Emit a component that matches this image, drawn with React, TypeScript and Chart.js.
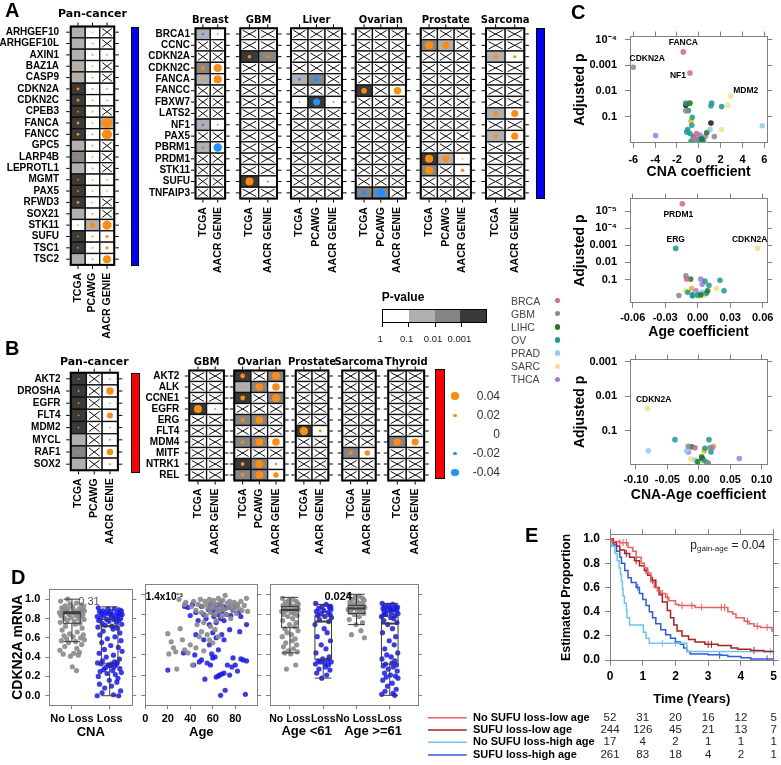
import React, { useEffect, useRef } from 'react';
import { Chart, registerables } from 'chart.js';

Chart.register(...registerables);

const SANS = "'Liberation Sans', Arial, Helvetica, sans-serif";
const WIDE = "'DejaVu Sans', Verdana, sans-serif";
Chart.defaults.font.family = SANS;
Chart.defaults.color = '#000';

const GREY_AX = '#808080';
const ORANGE = '#FF8C0F';
const BLUE_DOT = '#2290FF';
const P_FILL = ['#FFFFFF', '#B0B0B0', '#858585', '#3A3A3A'];

// ---------------- Panel A data ----------------
const SRC3 = ['TCGA', 'PCAWG', 'AACR GENIE'];
const SRC2 = ['TCGA', 'AACR GENIE'];

const panA_genes = ['ARHGEF10', 'ARHGEF10L', 'AXIN1', 'BAZ1A', 'CASP9', 'CDKN2A', 'CDKN2C', 'CPEB3', 'FANCA', 'FANCC', 'GPC5', 'LARP4B', 'LEPROTL1', 'MGMT', 'PAX5', 'RFWD3', 'SOX21', 'STK11', 'SUFU', 'TSC1', 'TSC2'];
const panA_p: Record<string, string> = { ARHGEF10: '10x', ARHGEF10L: '10x', AXIN1: '100', BAZ1A: '10x', CASP9: '10x', CDKN2A: '300', CDKN2C: '300', CPEB3: '30x', FANCA: '301', FANCC: '300', GPC5: '10x', LARP4B: '20x', LEPROTL1: '10x', MGMT: '300', PAX5: '300', RFWD3: '30x', SOX21: '10x', STK11: '010', SUFU: '300', TSC1: '300', TSC2: '100' };
const panA_c: Record<string, number[]> = { ARHGEF10: [0.01, 0.009, 0], ARHGEF10L: [0.01, 0.007, 0], AXIN1: [0.01, 0.01, 0.01], BAZ1A: [0.01, 0.007, 0], CASP9: [0.01, 0.007, 0], CDKN2A: [0.016, 0.01, 0.01], CDKN2C: [0.016, 0.01, 0.01], CPEB3: [0.01, 0.01, 0], FANCA: [0.016, 0.007, 0.058], FANCC: [0.016, 0.01, 0.058], GPC5: [0.008, 0.01, 0], LARP4B: [0.01, 0.008, 0], LEPROTL1: [0.008, 0.01, 0], MGMT: [0.01, 0.008, 0.01], PAX5: [0.01, 0.008, 0.008], RFWD3: [0.016, 0.007, 0], SOX21: [0.008, 0.01, 0], STK11: [0.008, 0.03, 0.052], SUFU: [0.01, 0.01, 0.018], TSC1: [0.01, 0.01, 0.018], TSC2: [0.008, 0.01, 0.045] };

const rA_genes = ['BRCA1', 'CCNC', 'CDKN2A', 'CDKN2C', 'FANCA', 'FANCC', 'FBXW7', 'LATS2', 'NF1', 'PAX5', 'PBRM1', 'PRDM1', 'STK11', 'SUFU', 'TNFAIP3'];
const breast_p: Record<string, string> = { BRCA1: '10', CDKN2C: '20', FANCA: '10', NF1: '10', PBRM1: '10' };
const breast_c: Record<string, number[]> = { BRCA1: [-0.015, -0.008], CDKN2C: [0.022, 0.046], FANCA: [0.012, 0.046], NF1: [-0.015, -0.007], PBRM1: [-0.012, -0.048] };
const gbmA_p: Record<string, string> = { CDKN2A: '32', SUFU: '30' };
const gbmA_c: Record<string, number[]> = { CDKN2A: [0.02, 0.015], SUFU: [0.045, 0.013] };
const liver_p: Record<string, string> = { FANCA: '12x', FBXW7: '030' };
const liver_c: Record<string, number[]> = { FANCA: [-0.016, -0.03, 0], FBXW7: [-0.008, -0.04, -0.008] };
const ovarA_p: Record<string, string> = { FANCC: '3x0', TNFAIP3: '22x' };
const ovarA_c: Record<string, number[]> = { FANCC: [0.032, 0, 0.042], TNFAIP3: [-0.026, -0.052, 0] };
const prostA_p: Record<string, string> = { CCNC: '21x', PRDM1: '310', STK11: '2x0' };
const prostA_c: Record<string, number[]> = { CCNC: [0.046, 0.042, 0], PRDM1: [0.046, 0.038, 0.008], STK11: [0.046, 0, 0.02] };
const sarcA_p: Record<string, string> = { CDKN2A: '10', LATS2: '10', PAX5: '10' };
const sarcA_c: Record<string, number[]> = { CDKN2A: [0.024, 0.017], LATS2: [0.028, 0.04], PAX5: [0.024, 0.04] };

// ---------------- Panel B data ----------------
const panB_genes = ['AKT2', 'DROSHA', 'EGFR', 'FLT4', 'MDM2', 'MYCL', 'RAF1', 'SOX2'];
const panB_p: Record<string, string> = { AKT2: '3x0', DROSHA: '3x0', EGFR: '3x0', FLT4: '3x0', MDM2: '3x0', MYCL: '1x0', RAF1: '2x0', SOX2: '1x0' };
const panB_c: Record<string, number[]> = { AKT2: [0.01, 0, 0.01], DROSHA: [0.01, 0, 0.042], EGFR: [0.01, 0, 0.008], FLT4: [0.01, 0, 0.034], MDM2: [0.01, 0, 0.008], MYCL: [0.008, 0, 0.012], RAF1: [0.008, 0, 0.036], SOX2: [0.008, 0, 0.012] };
const rB_genes = ['AKT2', 'ALK', 'CCNE1', 'EGFR', 'ERG', 'FLT4', 'MDM4', 'MITF', 'NTRK1', 'REL'];
const gbmB_p: Record<string, string> = { EGFR: '30' };
const gbmB_c: Record<string, number[]> = { EGFR: [0.045, 0.01] };
const ovarB_p: Record<string, string> = { AKT2: '3x2', ALK: '120', CCNE1: '3x2', ERG: '22x', MDM4: '220', NTRK1: '320', REL: '220' };
const ovarB_c: Record<string, number[]> = { AKT2: [0.027, 0, 0.045], ALK: [0.01, 0.043, 0.043], CCNE1: [0.027, 0, 0.045], ERG: [0.022, 0.043, 0], MDM4: [0.02, 0.043, 0.043], NTRK1: [0.022, 0.045, 0.014], REL: [0.02, 0.045, 0.03] };
const prostB_p: Record<string, string> = { FLT4: '30' };
const prostB_c: Record<string, number[]> = { FLT4: [0.048, 0.016] };
const sarcB_p: Record<string, string> = { MITF: '20' };
const sarcB_c: Record<string, number[]> = { MITF: [0.022, 0.03] };
const thyB_p: Record<string, string> = { MDM4: '20' };
const thyB_c: Record<string, number[]> = { MDM4: [0.04, 0.04] };

// ---------------- Legends ----------------
const pLegendLabels = ['1', '0.1', '0.01', '0.001'];
const cancerTypes = ['BRCA', 'GBM', 'LIHC', 'OV', 'PRAD', 'SARC', 'THCA'];
const typeColors: Record<string, string> = { BRCA: '#D9619E', GBM: '#8A8A8A', LIHC: '#237A23', OV: '#1E9C94', PRAD: '#8ECFF5', SARC: '#F4E08A', THCA: '#A77BE6', BLK: '#1C1C1C', GLD: '#EDB01A' };
const coefLegend = [0.04, 0.02, 0, -0.02, -0.04];

// ---------------- Panel C data: [coef, adjusted p, type] ----------------
const cnaPoints: [number, number, string][] = [
  [-1.42, 3e-4, 'BRCA'], [-0.81, 2e-3, 'BRCA'], [-0.2, 0.46, 'BRCA'], [-0.4, 0.7, 'BRCA'],
  [-6.0, 1.2e-3, 'GBM'], [-1.2, 0.059, 'GBM'], [1.42, 0.6, 'GBM'], [-0.3, 0.8, 'GBM'],
  [-0.81, 0.03, 'LIHC'], [0.72, 0.43, 'LIHC'], [0.3, 0.75, 'LIHC'],
  [-1.19, 0.03, 'OV'], [-0.96, 0.059, 'OV'], [-0.6, 0.107, 'OV'], [-0.65, 0.22, 'OV'], [-1.02, 0.32, 'OV'], [-0.81, 0.46, 'OV'], [-1.11, 0.4, 'OV'], [1.18, 0.03, 'OV'], [1.11, 0.038, 'OV'], [2.09, 0.041, 'OV'], [-0.5, 0.62, 'OV'], [0.0, 0.8, 'OV'], [0.4, 0.88, 'OV'], [-0.7, 0.9, 'OV'], [0.2, 0.7, 'OV'],
  [1.02, 0.32, 'PRAD'], [5.81, 0.23, 'PRAD'], [-0.1, 0.85, 'PRAD'], [0.25, 0.92, 'PRAD'],
  [2.92, 0.016, 'SARC'], [2.64, 0.036, 'SARC'], [2.09, 0.32, 'SARC'], [-0.55, 0.55, 'SARC'], [-0.7, 0.92, 'SARC'], [0.5, 0.95, 'SARC'],
  [-3.95, 0.55, 'THCA'], [0.11, 0.53, 'THCA'], [0.6, 0.6, 'THCA'], [-0.3, 0.75, 'THCA'],
  [-1.19, 0.036, 'BLK'], [1.11, 0.18, 'BLK'], [-0.72, 0.15, 'GLD'], [0.35, 0.88, 'GLD'],
];
const cnaLabels: [string, number, number, number, number][] = [['FANCA', -1.42, 3e-4, 0, -9], ['CDKN2A', -6.0, 1.2e-3, 14, -9], ['NF1', -0.81, 2e-3, -12, 3], ['MDM2', 2.92, 0.016, 15, -5]];
const agePoints: [number, number, string][] = [
  [-0.0142, 3.6e-6, 'BRCA'], [-0.0102, 0.093, 'BRCA'],
  [-0.0108, 0.06, 'GBM'], [-0.0173, 0.87, 'GBM'],
  [-0.0065, 0.093, 'LIHC'], [0.0092, 0.46, 'LIHC'], [0.003, 0.8, 'LIHC'],
  [-0.0203, 1.5e-3, 'OV'], [0.0067, 0.125, 'OV'], [0.0104, 0.22, 'OV'], [0.0206, 0.11, 'OV'], [0.0243, 0.46, 'OV'], [-0.0092, 0.57, 'OV'], [0.0, 0.8, 'OV'], [-0.005, 0.9, 'OV'], [0.008, 0.65, 'OV'],
  [0.0042, 0.57, 'PRAD'], [-0.002, 0.75, 'PRAD'],
  [0.0554, 1.5e-3, 'SARC'], [0.0175, 0.34, 'SARC'], [0.0006, 0.95, 'SARC'], [0.0067, 0.87, 'SARC'], [-0.0111, 0.46, 'SARC'],
  [0.0028, 0.093, 'THCA'], [0.0042, 0.19, 'THCA'], [-0.0016, 0.46, 'THCA'], [0.0045, 0.6, 'THCA'],
  [-0.0041, 0.8, 'BLK'], [-0.0055, 0.34, 'GLD'],
];
const ageLabels: [string, number, number, number, number][] = [['PRDM1', -0.0142, 3.6e-6, -4, 11], ['ERG', -0.0203, 1.5e-3, 0, -9], ['CDKN2A', 0.0554, 1.5e-3, -8, -9]];
const intPoints: [number, number, string][] = [
  [-0.0061, 0.31, 'BRCA'],
  [-0.0168, 0.28, 'GBM'], [0.0177, 0.31, 'GBM'], [0.015, 0.86, 'GBM'],
  [0.0045, 0.56, 'LIHC'], [-0.0018, 0.78, 'LIHC'], [-0.0114, 0.29, 'LIHC'],
  [-0.038, 0.18, 'OV'], [0.0161, 0.18, 'OV'], [0.0193, 0.41, 'OV'], [0.0125, 0.81, 'OV'], [0.0098, 0.32, 'OV'], [0.008, 0.7, 'OV'],
  [-0.0804, 0.38, 'PRAD'], [-0.0193, 0.38, 'PRAD'], [-0.0061, 0.7, 'PRAD'],
  [-0.0814, 0.023, 'SARC'], [-0.013, 0.65, 'SARC'], [-0.0034, 0.86, 'SARC'], [0.008, 0.9, 'SARC'],
  [-0.0168, 0.41, 'THCA'], [0.0214, 0.31, 'THCA'], [0.0644, 0.63, 'THCA'],
  [0.0055, 0.63, 'BLK'], [0.023, 0.28, 'GLD'], [0.0087, 0.38, 'GLD'],
];
const intLabels: [string, number, number, number, number][] = [['CDKN2A', -0.0814, 0.023, 6, -9]];

// ---------------- Panel D data ----------------
const JITTER = [-0.30, 0.12, -0.05, 0.25, -0.18, 0.31, 0.02, -0.27, 0.19, -0.10, 0.28, -0.22, 0.07, 0.33, -0.15, 0.22, -0.33, 0.04, 0.16, -0.24, 0.29, -0.08, 0.11, -0.29, 0.24, -0.02, 0.18, -0.20, 0.32, -0.12, 0.06, -0.31, 0.21, 0.09, -0.17, 0.27, -0.26, 0.14, -0.06, 0.30, -0.21, 0.03, 0.23, -0.14, 0.33, -0.28, 0.10, -0.09, 0.26, -0.19, 0.13, -0.32, 0.20, 0.05, -0.23, 0.17, -0.04, 0.01, 0.12, -0.11, 0.27, -0.16, 0.08, -0.25, 0.31, -0.07, 0.15, -0.30, 0.22, -0.01, 0.19, -0.27, 0.05, -0.13, 0.29, -0.20, 0.10, -0.33, 0.24, -0.03];
const d1NoLoss = [0.98, 0.96, 0.95, 0.94, 0.93, 0.92, 0.92, 0.91, 0.90, 0.90, 0.89, 0.89, 0.88, 0.88, 0.87, 0.87, 0.86, 0.86, 0.85, 0.85, 0.84, 0.84, 0.83, 0.83, 0.82, 0.81, 0.80, 0.80, 0.79, 0.78, 0.77, 0.76, 0.75, 0.74, 0.72, 0.70, 0.68, 0.66, 0.64, 0.63, 0.62, 0.61, 0.60, 0.59, 0.58, 0.57, 0.56, 0.55, 0.53, 0.51, 0.49, 0.47, 0.45, 0.44, 0.43, 0.42, 0.41, 0.30, 0.26, 1.00];
const d1Loss = [0.91, 0.90, 0.90, 0.89, 0.88, 0.88, 0.87, 0.87, 0.86, 0.86, 0.85, 0.85, 0.84, 0.84, 0.83, 0.83, 0.82, 0.82, 0.81, 0.80, 0.80, 0.79, 0.79, 0.78, 0.78, 0.77, 0.76, 0.75, 0.74, 0.73, 0.72, 0.71, 0.70, 0.69, 0.67, 0.65, 0.63, 0.61, 0.59, 0.57, 0.55, 0.52, 0.50, 0.48, 0.46, 0.44, 0.42, 0.40, 0.38, 0.36, 0.35, 0.34, 0.34, 0.33, 0.33, 0.32, 0.32, 0.31, 0.30, 0.29, 0.28, 0.27, 0.26, 0.25, 0.24, 0.23, 0.22, 0.20, 0.18, 0.16, 0.14, 0.12, 0.10, 0.08, 0.05, 0.03, 0.01, 0.00, 0.00, 0.85];
const d1Boxes = [[1, 0.56, 0.75, 0.855, 0.87, 1.0], [2, 0.0, 0.33, 0.72, 0.79, 0.92]];
const d2NoLoss: [number, number][] = [[20, 0.61], [23, 0.53], [25, 0.47], [21, 0.41], [27, 0.43], [30, 0.95], [31, 0.66], [33, 0.55], [35, 0.45], [36, 0.92], [38, 0.42], [40, 0.50], [41, 0.88], [42, 0.30], [43, 0.93], [45, 0.47], [45, 0.84], [47, 0.90], [48, 0.58], [49, 0.95], [50, 0.63], [50, 0.82], [51, 0.88], [52, 0.44], [53, 0.93], [54, 0.79], [55, 0.60], [55, 0.90], [56, 0.86], [57, 0.55], [57, 0.95], [58, 0.82], [59, 0.91], [60, 0.52], [60, 0.87], [61, 0.94], [62, 0.65], [62, 0.80], [63, 0.90], [64, 0.85], [65, 0.58], [65, 0.96], [66, 0.83], [67, 0.92], [68, 0.78], [68, 0.88], [69, 0.94], [70, 0.85], [71, 0.99], [72, 0.80], [73, 0.91], [74, 0.87], [75, 0.93], [76, 0.76], [77, 0.89], [78, 0.84], [79, 0.92], [80, 0.88], [81, 0.81], [82, 0.90], [83, 0.86], [85, 0.93], [86, 0.84], [88, 0.89], [90, 0.96], [91, 0.83], [46, 0.70], [52, 0.72], [58, 0.68], [63, 0.74], [28, 0.26], [35, 0.90]];
const d2Loss: [number, number][] = [[20, 0.25], [34, 0.42], [43, 0.30], [53, 0.16], [67, 0.0], [71, 0.05], [89, 0.01], [90, 0.34], [90, 0.70], [84, 0.63], [78, 0.37], [48, 0.33], [50, 0.35], [55, 0.32], [58, 0.30], [60, 0.37], [62, 0.38], [63, 0.18], [65, 0.19], [66, 0.20], [68, 0.21], [70, 0.22], [73, 0.30], [75, 0.20], [77, 0.28], [80, 0.30], [82, 0.24], [85, 0.36], [87, 0.35], [35, 0.88], [40, 0.79], [42, 0.90], [45, 0.82], [47, 0.74], [50, 0.88], [52, 0.80], [54, 0.76], [56, 0.85], [57, 0.70], [58, 0.90], [60, 0.83], [61, 0.78], [62, 0.88], [63, 0.72], [64, 0.85], [65, 0.80], [66, 0.90], [67, 0.76], [68, 0.83], [69, 0.88], [70, 0.74], [71, 0.86], [72, 0.80], [74, 0.87], [76, 0.79], [78, 0.84], [80, 0.88], [83, 0.82], [85, 0.78], [45, 0.60], [52, 0.55], [57, 0.50], [60, 0.62], [63, 0.57], [65, 0.45], [68, 0.60], [70, 0.55], [75, 0.65], [38, 0.87], [44, 0.40], [59, 0.41]];
const d3NoLossYoung = [0.96, 0.95, 0.94, 0.93, 0.92, 0.91, 0.90, 0.89, 0.88, 0.88, 0.87, 0.86, 0.86, 0.85, 0.84, 0.84, 0.83, 0.82, 0.81, 0.80, 0.79, 0.78, 0.76, 0.74, 0.72, 0.70, 0.68, 0.66, 0.64, 0.62, 0.60, 0.58, 0.56, 0.54, 0.52, 0.50, 0.48, 0.46, 0.44, 0.43, 0.42, 0.41, 0.30, 0.26, 0.90];
const d3LossYoung = [0.91, 0.90, 0.88, 0.87, 0.86, 0.85, 0.84, 0.83, 0.82, 0.81, 0.80, 0.79, 0.78, 0.77, 0.75, 0.73, 0.70, 0.66, 0.62, 0.58, 0.54, 0.50, 0.46, 0.42, 0.38, 0.36, 0.35, 0.34, 0.33, 0.33, 0.32, 0.31, 0.30, 0.28, 0.26, 0.25, 0.22, 0.20, 0.17, 0.88];
const d3NoLossOld = [1.00, 0.98, 0.97, 0.96, 0.95, 0.94, 0.93, 0.92, 0.91, 0.90, 0.89, 0.89, 0.88, 0.87, 0.86, 0.86, 0.85, 0.84, 0.83, 0.82, 0.81, 0.80, 0.78, 0.75, 0.72, 0.70, 0.64, 0.60, 0.57];
const d3LossOld = [0.91, 0.90, 0.89, 0.88, 0.88, 0.87, 0.86, 0.86, 0.85, 0.84, 0.84, 0.83, 0.82, 0.81, 0.80, 0.79, 0.78, 0.77, 0.76, 0.74, 0.72, 0.70, 0.66, 0.62, 0.58, 0.54, 0.50, 0.46, 0.42, 0.40, 0.38, 0.36, 0.34, 0.32, 0.31, 0.30, 0.29, 0.28, 0.26, 0.24, 0.22, 0.20, 0.19, 0.18, 0.17, 0.15, 0.12, 0.09, 0.06, 0.04, 0.02, 0.01, 0.00, 0.85, 0.80];
const d3Boxes = [[1, 0.42, 0.67, 0.845, 0.88, 0.97], [2, 0.17, 0.356, 0.73, 0.785, 0.90], [3, 0.70, 0.81, 0.86, 0.89, 1.0], [4, 0.0, 0.31, 0.71, 0.785, 0.91]];

// ---------------- Panel E data ----------------
const kmGroups = ['No SUFU loss-low age', 'SUFU loss-low age', 'No SUFU loss-high age', 'SUFU loss-high age'];
const kmColors = ['#F25C5C', '#B01E1E', '#6EC3F5', '#2F5BE0'];
const km1: [number, number][] = [[0, 1], [0.05, 0.98], [0.3, 0.97], [0.55, 0.93], [0.7, 0.9], [0.8, 0.85], [0.95, 0.8], [1.05, 0.76], [1.15, 0.72], [1.25, 0.65], [1.35, 0.6], [1.45, 0.57], [1.55, 0.55], [1.7, 0.52], [1.8, 0.49], [2.0, 0.46], [2.1, 0.45], [2.6, 0.435], [3.6, 0.4], [3.75, 0.38], [3.85, 0.35], [4.1, 0.32], [4.25, 0.3], [4.4, 0.28], [4.6, 0.27], [4.95, 0.24], [5, 0.24]];
const km2: [number, number][] = [[0, 1], [0.1, 0.97], [0.2, 0.94], [0.3, 0.91], [0.45, 0.88], [0.6, 0.85], [0.75, 0.82], [0.9, 0.78], [1.05, 0.74], [1.15, 0.7], [1.25, 0.66], [1.4, 0.6], [1.5, 0.54], [1.6, 0.48], [1.75, 0.41], [1.85, 0.35], [1.95, 0.29], [2.05, 0.24], [2.2, 0.2], [2.4, 0.17], [2.6, 0.15], [2.9, 0.13], [3.3, 0.12], [3.7, 0.1], [3.9, 0.09], [4.3, 0.08], [4.7, 0.07], [5, 0.06]];
const km3: [number, number][] = [[0, 1], [0.05, 0.94], [0.15, 0.88], [0.22, 0.82], [0.28, 0.76], [0.32, 0.71], [0.35, 0.65], [0.38, 0.59], [0.4, 0.53], [0.44, 0.47], [0.5, 0.41], [0.52, 0.35], [0.6, 0.29], [1.02, 0.23], [1.1, 0.18], [1.2, 0.14], [2.35, 0.07], [5, 0.07]];
const km4: [number, number][] = [[0, 1], [0.1, 0.95], [0.2, 0.9], [0.3, 0.85], [0.35, 0.8], [0.45, 0.74], [0.55, 0.68], [0.65, 0.64], [0.8, 0.6], [0.9, 0.55], [1.0, 0.5], [1.1, 0.45], [1.2, 0.4], [1.3, 0.35], [1.4, 0.3], [1.55, 0.25], [1.7, 0.21], [1.85, 0.18], [2.0, 0.15], [2.15, 0.13], [2.25, 0.1], [2.35, 0.07], [2.45, 0.05], [3.0, 0.045], [3.4, 0.04], [3.6, 0.03], [4.0, 0.02], [4.3, 0.01], [5, 0.01]];
const kmCensor: [number, number][][] = [
  [[0.3, 0.97], [0.4, 0.97], [0.5, 0.97], [1.6, 0.55], [1.75, 0.52], [2.2, 0.45], [2.5, 0.45], [2.8, 0.435], [3.4, 0.435], [3.5, 0.435], [4.2, 0.32], [4.5, 0.28], [4.8, 0.27]],
  [[0.5, 0.88], [0.8, 0.82], [1.1, 0.74], [1.3, 0.66], [3.0, 0.13], [3.1, 0.13], [4.4, 0.08]],
  [[1.6, 0.14], [2.0, 0.14], [4.9, 0.07]],
  [[0.85, 0.6], [3.35, 0.04], [4.8, 0.01]],
];
const kmRisk = [[52, 31, 20, 16, 12, 5], [244, 126, 45, 21, 13, 7], [17, 4, 2, 1, 1, 1], [261, 83, 18, 4, 2, 1]];
const kmTimes = [0, 1, 2, 3, 4, 5];

// ---------------- helpers ----------------
type Spec = { key: string; left: number; top: number; width: number; height: number; config: any };
const radius = (v: number) => Math.max(0.8, Math.abs(v) * 88);
const fixedTicks = (vals: number[]) => (s: any) => { s.ticks = vals.map((v) => ({ value: v })); };
const bold = (size: number, family = SANS) => ({ family, size, weight: 'bold' as const });

interface GridDef {
  key: string; title: string; genes: string[]; sources: string[]; p: Record<string, string>; c: Record<string, number[]>;
  left: number; top: number; colW: number; rowH: number; titleY: number; titleSize: number;
  showGenes: boolean; geneRight: number; labelGap: number;
}

function gridSpec(g: GridDef): Spec {
  const nC = g.sources.length, nR = g.genes.length;
  const right = g.left + nC * g.colW, bottom = g.top + nR * g.rowH;
  const cl = g.showGenes ? Math.max(0, Math.floor(g.left - 80)) : Math.floor(g.left - 8);
  const ct = Math.floor(g.titleY - 9);
  const cr = Math.ceil(right + 8);
  const cb = Math.ceil(bottom + 85);
  const code = (i: number, j: number) => (g.p[g.genes[i]] || 'xxx')[j];
  const pts: any[] = []; const cols: string[] = [];
  g.genes.forEach((gene, i) => {
    const row = g.c[gene];
    if (!row) return;
    row.forEach((v, j) => {
      if (code(i, j) !== 'x' && v !== 0) { pts.push({ x: g.sources[j], y: gene, r: radius(v) }); cols.push(v > 0 ? ORANGE : BLUE_DOT); }
    });
  });
  const plugin = {
    id: 'cells_' + g.key,
    beforeDatasetsDraw(chart: any) {
      const { ctx, chartArea: a } = chart; const xs = chart.scales.x, ys = chart.scales.y;
      const cw = a.width / nC, rh = a.height / nR;
      ctx.save();
      for (let i = 0; i < nR; i++) for (let j = 0; j < nC; j++) {
        const k = code(i, j);
        const x0 = xs.getPixelForValue(j) - cw / 2, y0 = ys.getPixelForValue(i) - rh / 2;
        ctx.fillStyle = k === 'x' ? '#fff' : P_FILL[+k];
        ctx.fillRect(x0, y0, cw, rh);
        ctx.lineWidth = 1.3; ctx.strokeStyle = '#111';
        ctx.strokeRect(x0, y0, cw, rh);
        if (k === 'x') {
          ctx.lineWidth = 1; ctx.beginPath();
          ctx.moveTo(x0 + 2.5, y0 + 2); ctx.lineTo(x0 + cw - 2.5, y0 + rh - 2);
          ctx.moveTo(x0 + cw - 2.5, y0 + 2); ctx.lineTo(x0 + 2.5, y0 + rh - 2);
          ctx.stroke();
        }
      }
      ctx.restore();
    },
    afterDatasetsDraw(chart: any) {
      const { ctx, chartArea: a } = chart; const xs = chart.scales.x, ys = chart.scales.y;
      ctx.save();
      ctx.strokeStyle = '#000'; ctx.lineWidth = 2;
      ctx.strokeRect(a.left, a.top, a.width, a.height);
      ctx.lineWidth = 1; ctx.beginPath();
      for (let i = 0; i < nR; i++) {
        const y = ys.getPixelForValue(i);
        ctx.moveTo(a.left - 1, y); ctx.lineTo(a.left - 4.5, y);
        ctx.moveTo(a.right + 1, y); ctx.lineTo(a.right + 4.5, y);
      }
      for (let j = 0; j < nC; j++) {
        const x = xs.getPixelForValue(j);
        ctx.moveTo(x, a.top - 1); ctx.lineTo(x, a.top - 4);
        ctx.moveTo(x, a.bottom + 1); ctx.lineTo(x, a.bottom + 4);
      }
      ctx.stroke();
      ctx.fillStyle = '#000'; ctx.font = `bold ${g.titleSize}px ${WIDE}`;
      ctx.textAlign = 'center'; ctx.textBaseline = 'middle';
      ctx.fillText(g.title, (a.left + a.right) / 2, g.titleY - ct);
      ctx.restore();
    },
  };
  return {
    key: g.key, left: cl, top: ct, width: cr - cl, height: cb - ct,
    config: {
      type: 'bubble',
      data: { datasets: [{ data: pts, backgroundColor: cols, borderWidth: 0 }] },
      options: {
        responsive: false, animation: false, events: [],
        layout: { autoPadding: false, padding: { left: 0, top: g.top - ct, right: cr - right, bottom: 0 } },
        plugins: { legend: { display: false }, tooltip: { enabled: false } },
        scales: {
          x: {
            type: 'category', labels: g.sources, offset: true,
            grid: { display: false, drawTicks: false }, border: { display: false },
            ticks: { autoSkip: false, minRotation: 90, maxRotation: 90, padding: g.labelGap, font: bold(10.5), color: '#000' },
            afterFit: (s: any) => { s.height = cb - bottom; },
          },
          y: {
            type: 'category', labels: g.genes, offset: true,
            grid: { display: false, drawTicks: false }, border: { display: false },
            ticks: { display: g.showGenes, autoSkip: false, padding: g.left - g.geneRight, font: bold(10), color: '#000' },
            afterFit: (s: any) => { s.width = g.left - cl; },
          },
        },
      },
      plugins: [plugin],
    },
  };
}

interface ScatDef {
  key: string; canvas: number[]; plot: number[]; xMin: number; xMax: number; xTicks: number[]; xFmt: (v: number) => string;
  yMin: number; yMax: number; yTicks: number[]; yLabels: string[]; xTitle: string; xPad: number;
  points: [number, number, string][]; labels: [string, number, number, number, number][];
}

function scatterSpec(s: ScatDef): Spec {
  const [cl, ct, cr, cb] = s.canvas; const [pl, pt, pr, pb] = s.plot;
  const order = ['BRCA', 'GBM', 'LIHC', 'OV', 'PRAD', 'SARC', 'THCA', 'BLK', 'GLD'];
  const datasets = order.map((t) => ({
    label: t,
    data: s.points.filter((p) => p[2] === t).map((p) => ({ x: p[0], y: p[1] })),
    backgroundColor: typeColors[t] + 'E0', borderWidth: 0, pointRadius: 2.8,
  }));
  const yLab = (v: number) => {
    const k = s.yTicks.findIndex((t) => Math.abs(Math.log10(t) - Math.log10(v)) < 1e-6);
    return k >= 0 ? s.yLabels[k] : '';
  };
  const grid = { drawOnChartArea: false, tickLength: 5, color: GREY_AX };
  const border = { color: GREY_AX, width: 1 };
  const plugin = {
    id: 'lab_' + s.key,
    afterDatasetsDraw(chart: any) {
      const { ctx } = chart; const xs = chart.scales.x, ys = chart.scales.y;
      ctx.save(); ctx.fillStyle = '#000'; ctx.font = `bold 8.5px ${SANS}`;
      ctx.textAlign = 'center'; ctx.textBaseline = 'middle';
      s.labels.forEach(([t, x, p, dx, dy]) => ctx.fillText(t, xs.getPixelForValue(x) + dx, ys.getPixelForValue(p) + dy));
      ctx.restore();
    },
  };
  return {
    key: s.key, left: cl, top: ct, width: cr - cl, height: cb - ct,
    config: {
      type: 'scatter',
      data: { datasets },
      options: {
        responsive: false, animation: false, events: [],
        layout: { autoPadding: false, padding: 0 },
        plugins: { legend: { display: false }, tooltip: { enabled: false } },
        scales: {
          x: {
            type: 'linear', min: s.xMin, max: s.xMax, afterBuildTicks: fixedTicks(s.xTicks),
            ticks: { callback: (v: any) => s.xFmt(v), font: bold(11), color: '#000', padding: s.xPad },
            grid, border,
            title: { display: true, text: s.xTitle, font: bold(14), color: '#000', padding: { top: 0, bottom: 0 } },
            afterFit: (sc: any) => { sc.height = cb - pb; },
          },
          x2: {
            axis: 'x', type: 'linear', position: 'top', min: s.xMin, max: s.xMax, afterBuildTicks: fixedTicks(s.xTicks),
            ticks: { display: false }, grid, border,
            afterFit: (sc: any) => { sc.height = pt - ct; },
          },
          y: {
            type: 'logarithmic', reverse: true, min: s.yMin, max: s.yMax, afterBuildTicks: fixedTicks(s.yTicks),
            ticks: { callback: (v: any) => yLab(v), font: bold(11), color: '#000', padding: 8 },
            grid, border,
            title: { display: true, text: 'Adjusted p', font: bold(14), color: '#000', padding: { top: 7, bottom: 0 } },
            afterFit: (sc: any) => { sc.width = pl - cl; },
          },
          y2: {
            axis: 'y', type: 'logarithmic', position: 'right', reverse: true, min: s.yMin, max: s.yMax, afterBuildTicks: fixedTicks(s.yTicks),
            ticks: { display: false }, grid, border,
            afterFit: (sc: any) => { sc.width = cr - pr; },
          },
        },
      },
      plugins: [plugin],
    },
  };
}

interface DDef {
  key: string; canvas: number[]; plot: number[]; xMin: number; xMax: number; xTicks: number[]; xLabels: string[]; xFont: number;
  xTitle: string; showY: boolean; sets: { data: { x: number; y: number }[]; color: string }[];
  boxes: number[][]; boxHalf: number; notes: { text: string; x: number; y: number; font: string; align: string; color: string }[];
  groups: { text: string; x: number }[];
}

function dSpec(d: DDef): Spec {
  const [cl, ct, cr, cb] = d.canvas; const [pl, pt, pr, pb] = d.plot;
  const grid = { drawOnChartArea: false, tickLength: 4, color: GREY_AX };
  const border = { color: GREY_AX, width: 1 };
  const yT = [0, 0.2, 0.4, 0.6, 0.8, 1.0];
  const plugin = {
    id: 'box_' + d.key,
    afterDatasetsDraw(chart: any) {
      const { ctx } = chart; const xs = chart.scales.x, ys = chart.scales.y;
      ctx.save(); ctx.strokeStyle = '#3a3a3a';
      d.boxes.forEach(([pos, mn, q1, md, q3, mx]) => {
        const xc = xs.getPixelForValue(pos), hw = xs.getPixelForValue(pos + d.boxHalf) - xc;
        const Y = (v: number) => ys.getPixelForValue(v);
        ctx.lineWidth = 1;
        ctx.strokeRect(xc - hw, Y(q3), 2 * hw, Y(q1) - Y(q3));
        ctx.beginPath();
        ctx.moveTo(xc, Y(q3)); ctx.lineTo(xc, Y(mx));
        ctx.moveTo(xc, Y(q1)); ctx.lineTo(xc, Y(mn));
        ctx.moveTo(xc - hw, Y(mx)); ctx.lineTo(xc + hw, Y(mx));
        ctx.moveTo(xc - hw, Y(mn)); ctx.lineTo(xc + hw, Y(mn));
        ctx.stroke();
        ctx.lineWidth = 2; ctx.beginPath();
        ctx.moveTo(xc - hw, Y(md)); ctx.lineTo(xc + hw, Y(md)); ctx.stroke();
      });
      d.notes.forEach((n) => {
        ctx.font = n.font; ctx.fillStyle = n.color; ctx.textAlign = n.align; ctx.textBaseline = 'middle';
        ctx.fillText(n.text, xs.getPixelForValue(n.x), ys.getPixelForValue(n.y));
      });
      ctx.font = `bold 13px ${SANS}`; ctx.fillStyle = '#000'; ctx.textAlign = 'center'; ctx.textBaseline = 'middle';
      d.groups.forEach((g) => ctx.fillText(g.text, xs.getPixelForValue(g.x), 731.7 - ct));
      ctx.restore();
    },
  };
  return {
    key: d.key, left: cl, top: ct, width: cr - cl, height: cb - ct,
    config: {
      type: 'scatter',
      data: { datasets: d.sets.map((s) => ({ data: s.data, backgroundColor: s.color, borderWidth: 0, pointRadius: 2.6 })) },
      options: {
        responsive: false, animation: false, events: [],
        layout: { autoPadding: false, padding: 0 },
        plugins: { legend: { display: false }, tooltip: { enabled: false } },
        scales: {
          x: {
            type: 'linear', min: d.xMin, max: d.xMax, afterBuildTicks: fixedTicks(d.xTicks),
            ticks: { callback: (v: any) => d.xLabels[d.xTicks.indexOf(v)] ?? '', font: bold(d.xFont), color: '#000', padding: 3.5, autoSkip: false, minRotation: 0, maxRotation: 0 },
            grid, border,
            title: { display: d.xTitle !== '', text: d.xTitle, font: bold(13), color: '#000', padding: { top: 0, bottom: 0 } },
            afterFit: (sc: any) => { sc.height = cb - pb; },
          },
          x2: {
            axis: 'x', type: 'linear', position: 'top', min: d.xMin, max: d.xMax,
            ticks: { display: false }, grid: { display: false, drawTicks: false }, border,
            afterFit: (sc: any) => { sc.height = pt - ct; },
          },
          y: {
            type: 'linear', min: -0.096, max: 1.099, afterBuildTicks: fixedTicks(yT),
            ticks: { display: d.showY, callback: (v: any) => Number(v).toFixed(1), font: bold(11), color: '#000', padding: 5 },
            grid, border,
            title: { display: d.showY, text: 'CDKN2A mRNA', font: bold(14), color: '#000', padding: { top: 10, bottom: 0 } },
            afterFit: (sc: any) => { sc.width = pl - cl; },
          },
          y2: {
            axis: 'y', type: 'linear', position: 'right', min: -0.096, max: 1.099, afterBuildTicks: fixedTicks(yT),
            ticks: { display: false }, grid, border,
            afterFit: (sc: any) => { sc.width = cr - pr; },
          },
        },
      },
      plugins: [plugin],
    },
  };
}

function kmSpec(): Spec {
  const cl = 420, ct = 522, cr = 781, cb = 765;
  const pl = 610, pt = 533.3, pr = 775, pb = 660.7;
  const grid = { drawOnChartArea: false, tickLength: 5, color: GREY_AX };
  const border = { color: GREY_AX, width: 1 };
  const curves = [km1, km2, km3, km4].map((k, i) => ({
    type: 'line', data: k.map(([x, y]) => ({ x, y })), borderColor: kmColors[i], borderWidth: 1.5,
    stepped: true, pointRadius: 0, fill: false,
  }));
  const censors = kmCensor.map((k, i) => ({
    type: 'scatter', data: k.map(([x, y]) => ({ x, y })), borderColor: kmColors[i], backgroundColor: kmColors[i],
    pointStyle: 'line', rotation: 90, pointRadius: 3.5, borderWidth: 1, showLine: false,
  }));
  const rowsY = [717.7, 730, 742.3, 755];
  const plugin = {
    id: 'km_table',
    afterDraw(chart: any) {
      const { ctx } = chart; const xs = chart.scales.x, ys = chart.scales.y;
      ctx.save();
      kmGroups.forEach((name, i) => {
        const y = rowsY[i] - ct;
        ctx.strokeStyle = kmColors[i]; ctx.lineWidth = 1.5;
        ctx.beginPath(); ctx.moveTo(428 - cl, y); ctx.lineTo(466.7 - cl, y); ctx.stroke();
        ctx.fillStyle = '#000'; ctx.font = `bold 11px ${SANS}`; ctx.textAlign = 'left'; ctx.textBaseline = 'middle';
        ctx.fillText(name, 473 - cl, y);
        ctx.font = `11.5px ${SANS}`; ctx.fillStyle = '#222'; ctx.textAlign = 'center';
        kmRisk[i].forEach((n, j) => ctx.fillText(String(n), xs.getPixelForValue(kmTimes[j]), y));
      });
      const xr = xs.getPixelForValue(4.74), yc = ys.getPixelForValue(0.945);
      ctx.fillStyle = '#222'; ctx.textBaseline = 'middle'; ctx.textAlign = 'left';
      ctx.font = `12px ${SANS}`; const w1 = ctx.measureText('p').width;
      const w3 = ctx.measureText(' = 0.04').width;
      ctx.font = `8px ${SANS}`; const w2 = ctx.measureText('gain-age').width;
      const x0 = xr - (w1 + w2 + w3);
      ctx.font = `12px ${SANS}`; ctx.fillText('p', x0, yc);
      ctx.font = `8px ${SANS}`; ctx.fillText('gain-age', x0 + w1, yc + 3);
      ctx.font = `12px ${SANS}`; ctx.fillText(' = 0.04', x0 + w1 + w2, yc);
      ctx.restore();
    },
  };
  const xt = [0, 1, 2, 3, 4, 5];
  const yt = [0, 0.2, 0.4, 0.6, 0.8, 1.0];
  return {
    key: 'km', left: cl, top: ct, width: cr - cl, height: cb - ct,
    config: {
      type: 'line',
      data: { datasets: [...curves, ...censors] },
      options: {
        responsive: false, animation: false, events: [],
        layout: { autoPadding: false, padding: 0 },
        plugins: { legend: { display: false }, tooltip: { enabled: false } },
        scales: {
          x: {
            type: 'linear', min: 0, max: 5, afterBuildTicks: fixedTicks(xt),
            ticks: { font: bold(12), color: '#000', padding: 4 }, grid, border,
            title: { display: true, text: 'Time (Years)', font: bold(13), color: '#000', padding: { top: 0, bottom: 58 } },
            afterFit: (sc: any) => { sc.height = cb - pb; },
          },
          x2: {
            axis: 'x', type: 'linear', position: 'top', min: 0, max: 5, afterBuildTicks: fixedTicks(xt),
            ticks: { display: false }, grid, border, afterFit: (sc: any) => { sc.height = pt - ct; },
          },
          y: {
            type: 'linear', min: -0.005, max: 1.04, afterBuildTicks: fixedTicks(yt),
            ticks: { callback: (v: any) => Number(v).toFixed(1), font: bold(12), color: '#000', padding: 5 }, grid, border,
            title: { display: true, text: 'Estimated Proportion', font: bold(12.5), color: '#000', padding: { top: 139, bottom: 0 } },
            afterFit: (sc: any) => { sc.width = pl - cl; },
          },
          y2: {
            axis: 'y', type: 'linear', position: 'right', min: -0.005, max: 1.04, afterBuildTicks: fixedTicks(yt),
            ticks: { display: false }, grid, border, afterFit: (sc: any) => { sc.width = cr - pr; },
          },
        },
      },
      plugins: [plugin],
    },
  };
}

// ---------------- build all specs ----------------
const GREY_PT = 'rgba(138,138,138,0.9)';
const BLUE_PT = 'rgba(25,25,235,0.85)';
const jit = (ys: number[], pos: number, scale: number) => ys.map((y, i) => ({ x: pos + JITTER[i] * scale, y }));

function buildSpecs(): Spec[] {
  const A = { top: 28.3, rowH: 11.35, titleY: 20.7, titleSize: 10, labelGap: 8.5, geneRight: 190 };
  const B = { top: 370.5, rowH: 11, titleY: 362.3, titleSize: 10, labelGap: 8, geneRight: 179.3 };
  const grids: GridDef[] = [
    { key: 'panA', title: 'Pan-cancer', genes: panA_genes, sources: SRC3, p: panA_p, c: panA_c, left: 70.7, top: 26.5, colW: 16.67, rowH: 11.35, titleY: 14, titleSize: 11, showGenes: true, geneRight: 59, labelGap: 8 },
    { key: 'breast', title: 'Breast', genes: rA_genes, sources: SRC2, p: breast_p, c: breast_c, left: 195.5, colW: 18.4, showGenes: true, ...A },
    { key: 'gbmA', title: 'GBM', genes: rA_genes, sources: SRC2, p: gbmA_p, c: gbmA_c, left: 240.3, colW: 21.2, showGenes: false, ...A },
    { key: 'liver', title: 'Liver', genes: rA_genes, sources: SRC3, p: liver_p, c: liver_c, left: 291, colW: 18.9, showGenes: false, ...A },
    { key: 'ovarA', title: 'Ovarian', genes: rA_genes, sources: SRC3, p: ovarA_p, c: ovarA_c, left: 355.7, colW: 18.7, showGenes: false, ...A },
    { key: 'prostA', title: 'Prostate', genes: rA_genes, sources: SRC3, p: prostA_p, c: prostA_c, left: 420.7, colW: 18.7, showGenes: false, ...A },
    { key: 'sarcA', title: 'Sarcoma', genes: rA_genes, sources: SRC2, p: sarcA_p, c: sarcA_c, left: 486, colW: 21.7, showGenes: false, ...A },
    { key: 'panB', title: 'Pan-cancer', genes: panB_genes, sources: SRC3, p: panB_p, c: panB_c, left: 70.7, top: 372.7, colW: 17.6, rowH: 12.2, titleY: 361.7, titleSize: 11, showGenes: true, geneRight: 60.5, labelGap: 8 },
    { key: 'gbmB', title: 'GBM', genes: rB_genes, sources: SRC2, p: gbmB_p, c: gbmB_c, left: 189.3, colW: 20, showGenes: true, ...B },
    { key: 'ovarB', title: 'Ovarian', genes: rB_genes, sources: SRC3, p: ovarB_p, c: ovarB_c, left: 234.3, colW: 18.33, showGenes: false, ...B },
    { key: 'prostB', title: 'Prostate', genes: rB_genes, sources: SRC2, p: prostB_p, c: prostB_c, left: 295.7, colW: 19.3, showGenes: false, ...B },
    { key: 'sarcB', title: 'Sarcoma', genes: rB_genes, sources: SRC2, p: sarcB_p, c: sarcB_c, left: 342.3, colW: 19.7, showGenes: false, ...B },
    { key: 'thyB', title: 'Thyroid', genes: rB_genes, sources: SRC2, p: thyB_p, c: thyB_c, left: 388.3, colW: 20.5, showGenes: false, ...B },
  ];
  const specs: Spec[] = grids.map(gridSpec);

  specs.push(scatterSpec({
    key: 'c1', canvas: [565, 22, 781, 181], plot: [630, 34.3, 767.3, 142.7], xMin: -6.3, xMax: 6.27, xTicks: [-6, -4, -2, 0, 2, 4, 6], xFmt: (v) => String(v),
    yMin: 7.6e-5, yMax: 1.05, yTicks: [1e-4, 1e-3, 0.01, 0.1], yLabels: ['10⁻⁴', '0.001', '0.01', '0.1'], xTitle: 'CNA coefficient', xPad: 5.5,
    points: cnaPoints, labels: cnaLabels,
  }));
  specs.push(scatterSpec({
    key: 'c2', canvas: [565, 184, 781, 341], plot: [630, 194, 767, 302.7], xMin: -0.0625, xMax: 0.064, xTicks: [-0.06, -0.03, 0, 0.03, 0.06], xFmt: (v) => v.toFixed(2),
    yMin: 1.8e-6, yMax: 2.3, yTicks: [1e-5, 1e-4, 1e-3, 0.01, 0.1], yLabels: ['10⁻⁵', '10⁻⁴', '0.001', '0.01', '0.1'], xTitle: 'Age coefficient', xPad: 4,
    points: agePoints, labels: ageLabels,
  }));
  specs.push(scatterSpec({
    key: 'c3', canvas: [565, 345, 781, 504], plot: [630, 356.7, 767, 464.3], xMin: -0.1095, xMax: 0.1084, xTicks: [-0.1, -0.05, 0, 0.05, 0.1], xFmt: (v) => v.toFixed(2),
    yMin: 8.7e-4, yMax: 0.93, yTicks: [1e-3, 0.01, 0.1], yLabels: ['0.001', '0.01', '0.1'], xTitle: 'CNA-Age coefficient', xPad: 4,
    points: intPoints, labels: intLabels,
  }));

  specs.push(dSpec({
    key: 'd1', canvas: [0, 578, 140, 740], plot: [49.3, 584.3, 132.3, 705], xMin: 0.4, xMax: 2.6, xTicks: [1, 2], xLabels: ['No Loss', 'Loss'], xFont: 11,
    xTitle: 'CNA', showY: true,
    sets: [{ data: jit(d1NoLoss, 1, 1), color: GREY_PT }, { data: jit(d1Loss, 2, 1), color: BLUE_PT }],
    boxes: d1Boxes, boxHalf: 0.22,
    notes: [{ text: '0.31', x: 1.45, y: 0.975, font: `11px ${SANS}`, align: 'center', color: '#555' }], groups: [],
  }));
  specs.push(dSpec({
    key: 'd2', canvas: [137, 578, 262, 740], plot: [145.3, 584.3, 257.3, 705], xMin: 0, xMax: 99.6, xTicks: [0, 20, 40, 60, 80], xLabels: ['0', '20', '40', '60', '80'], xFont: 11,
    xTitle: 'Age', showY: false,
    sets: [{ data: d2NoLoss.map(([x, y]) => ({ x, y })), color: GREY_PT }, { data: d2Loss.map(([x, y]) => ({ x, y })), color: BLUE_PT }],
    boxes: [], boxHalf: 0,
    notes: [{ text: '1.4x10⁻³', x: 0.5, y: 0.97, font: `bold 10px ${SANS}`, align: 'left', color: '#000' }], groups: [],
  }));
  specs.push(dSpec({
    key: 'd3', canvas: [262, 578, 430, 740], plot: [270, 584.3, 418, 705], xMin: 0.4, xMax: 4.85, xTicks: [1, 2, 3, 4], xLabels: ['No Loss', 'Loss', 'No Loss', 'Loss'], xFont: 10.5,
    xTitle: '', showY: false,
    sets: [
      { data: jit(d3NoLossYoung, 1, 0.75), color: GREY_PT }, { data: jit(d3LossYoung, 2, 0.75), color: BLUE_PT },
      { data: jit(d3NoLossOld, 3, 0.75), color: GREY_PT }, { data: jit(d3LossOld, 4, 0.75), color: BLUE_PT },
    ],
    boxes: d3Boxes, boxHalf: 0.25,
    notes: [{ text: '0.024', x: 2.45, y: 0.975, font: `bold 11px ${SANS}`, align: 'center', color: '#000' }],
    groups: [{ text: 'Age <61', x: 1.5 }, { text: 'Age >=61', x: 3.5 }],
  }));
  specs.push(kmSpec());
  return specs;
}

const SPECS = buildSpecs();

const abs = (l: number, t: number, extra: any = {}) => ({ position: 'absolute' as const, left: l, top: t, ...extra });

export default function App() {
  const refs = useRef<(HTMLCanvasElement | null)[]>([]);
  useEffect(() => {
    const charts = SPECS.map((s, i) => new Chart(refs.current[i] as HTMLCanvasElement, s.config));
    return () => charts.forEach((c) => c.destroy());
  }, []);

  const pBarX = [381.7, 408.1, 434.5, 460.9];
  return (
    <div style={{ position: 'absolute', left: 0, top: 0, width: 781, height: 765, background: '#fff', overflow: 'hidden', fontFamily: SANS }}>
      {SPECS.map((s, i) => (
        <canvas key={s.key} ref={(el) => { refs.current[i] = el; }} width={s.width} height={s.height}
          style={{ position: 'absolute', left: s.left, top: s.top, width: s.width, height: s.height }} />
      ))}
      {[['A', 5, 0], ['B', 5, 338], ['C', 571, 2], ['D', 11, 567], ['E', 525, 525]].map(([t, l, tp]) => (
        <div key={t as string} style={abs(l as number, tp as number, { font: `bold 20px ${SANS}`, lineHeight: '20px' })}>{t}</div>
      ))}
      <div style={abs(131, 26.7, { width: 8.3, height: 239, background: '#0000FF', border: '1px solid #000', boxSizing: 'border-box' })} />
      <div style={abs(536, 28.3, { width: 9, height: 170.3, background: '#0000FF', border: '1px solid #000', boxSizing: 'border-box' })} />
      <div style={abs(131, 372.7, { width: 9, height: 100, background: '#FF0000', border: '1px solid #000', boxSizing: 'border-box' })} />
      <div style={abs(435, 369.3, { width: 10, height: 110, background: '#FF0000', border: '1px solid #000', boxSizing: 'border-box' })} />
      <div style={abs(381.7, 290, { font: `bold 12px ${SANS}`, lineHeight: '14px' })}>P-value</div>
      <div style={abs(381.7, 309, { width: 105.6, height: 13.7, border: '1px solid #000', boxSizing: 'border-box', display: 'flex' })}>
        {P_FILL.map((c) => <div key={c} style={{ flex: 1, background: c }} />)}
      </div>
      {pBarX.map((x, i) => (
        <React.Fragment key={i}>
          <div style={abs(x, 322.7, { width: 1, height: 4, background: '#000' })} />
          <div style={abs(x - 20 - 1.5, 333, { width: 40, textAlign: 'center', font: `9.5px ${SANS}`, lineHeight: '12px', color: '#222' })}>{pLegendLabels[i]}</div>
        </React.Fragment>
      ))}
      {cancerTypes.map((t, k) => (
        <React.Fragment key={t}>
          <div style={abs(511, 300.7 + 13.1 * k - 7, { font: `10.5px ${SANS}`, lineHeight: '14px', color: '#444' })}>{t}</div>
          <div style={abs(557.7 - 2.7, 300.7 + 13.1 * k - 2.7, { width: 5.4, height: 5.4, borderRadius: '50%', background: typeColors[t] })} />
        </React.Fragment>
      ))}
      {coefLegend.map((v, k) => {
        const y = [396, 415.7, 434.7, 453.7, 472.7][k];
        const r = v === 0 ? 0 : radius(v);
        return (
          <React.Fragment key={k}>
            {r > 0 && <div style={abs(455 - r, y - r, { width: 2 * r, height: 2 * r, borderRadius: '50%', background: v > 0 ? ORANGE : BLUE_DOT })} />}
            <div style={abs(440, y - 7.5, { width: 60, textAlign: 'right', font: `12px ${SANS}`, lineHeight: '15px', color: '#333' })}>{String(v)}</div>
          </React.Fragment>
        );
      })}
    </div>
  );
}
